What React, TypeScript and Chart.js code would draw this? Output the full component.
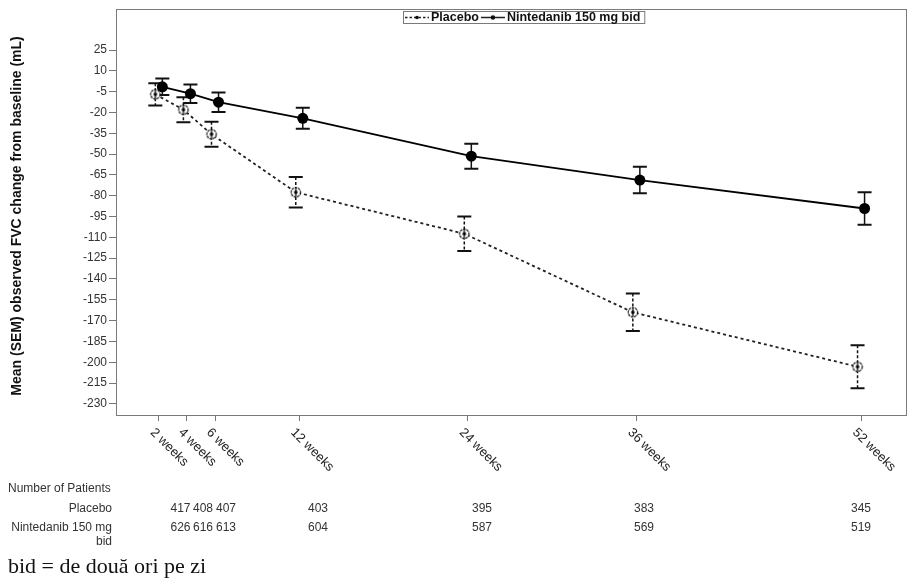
import React, { useEffect, useRef } from 'react';
import { Chart, registerables } from 'chart.js';

Chart.register(...registerables);

// ---- data ----
const WEEKS = [2, 4, 6, 12, 24, 36, 52];
const WEEK_LABELS = ['2 weeks', '4 weeks', '6 weeks', '12 weeks', '24 weeks', '36 weeks', '52 weeks'];
const PLACEBO_MEAN = [-6.9, -18.0, -35.7, -77.5, -107.4, -164.0, -203.2];
const PLACEBO_SEM = [8.0, 9.0, 9.0, 11.0, 12.5, 13.5, 15.5];
const NINTEDANIB_MEAN = [-1.5, -6.5, -12.6, -24.2, -51.5, -68.7, -89.2];
const NINTEDANIB_SEM = [6.0, 6.7, 7.0, 7.6, 9.0, 9.5, 11.7];
const Y_TICKS = [25, 10, -5, -20, -35, -50, -65, -80, -95, -110, -125, -140, -155, -170, -185, -200, -215, -230];
const PLACEBO_N = [417, 408, 407, 403, 395, 383, 345];
const NINTEDANIB_N = [626, 616, 613, 604, 587, 569, 519];
const SERIES_NAMES = ['Placebo', 'Nintedanib 150 mg bid'];
const Y_TITLE = 'Mean (SEM) observed FVC change from baseline (mL)';
const TABLE_TITLE = 'Number of Patients';
const FOOTNOTE = 'bid = de două ori pe zi';

// ---- layout / style ----
const W = 919;
const H = 588;
const DODGE = 0.25;
const TABLE_X = [180.5, 203, 226, 318, 482, 644, 861];
const SANS = 'Arial, "Liberation Sans", sans-serif';
const FRAME = '#7a7a7a';

function makePlaceboMarker(): HTMLCanvasElement {
  const c = document.createElement('canvas');
  c.width = 14;
  c.height = 14;
  const g = c.getContext('2d')!;
  g.fillStyle = '#fff';
  g.beginPath();
  g.arc(7, 7, 4.7, 0, Math.PI * 2);
  g.fill();
  g.strokeStyle = '#111';
  g.lineWidth = 1.2;
  g.setLineDash([2.6, 0.8]);
  g.beginPath();
  g.arc(7, 7, 4.7, 0, Math.PI * 2);
  g.stroke();
  g.setLineDash([]);
  g.lineWidth = 1.3;
  g.beginPath();
  g.moveTo(7, 3);
  g.lineTo(7, 11);
  g.stroke();
  g.fillStyle = '#000';
  g.beginPath();
  g.arc(7, 7, 1.8, 0, Math.PI * 2);
  g.fill();
  return c;
}

const errorBarPlugin = {
  id: 'errorBars',
  beforeDatasetsDraw(chart: any) {
    const ctx = chart.ctx;
    const xs = chart.scales.x;
    const ys = chart.scales.y;
    chart.data.datasets.forEach((ds: any) => {
      const errs: number[] = ds.errors;
      ds.data.forEach((p: any, i: number) => {
        const x = xs.getPixelForValue(p.x);
        const yt = ys.getPixelForValue(p.y + errs[i]);
        const yb = ys.getPixelForValue(p.y - errs[i]);
        ctx.save();
        ctx.strokeStyle = '#111';
        ctx.lineWidth = 1.5;
        ctx.setLineDash(ds.dashedBars ? [3, 2] : []);
        ctx.beginPath();
        ctx.moveTo(x, yt);
        ctx.lineTo(x, yb);
        ctx.stroke();
        ctx.setLineDash([]);
        ctx.lineWidth = 2;
        ctx.beginPath();
        ctx.moveTo(x - 7, yt);
        ctx.lineTo(x + 7, yt);
        ctx.moveTo(x - 7, yb);
        ctx.lineTo(x + 7, yb);
        ctx.stroke();
        ctx.restore();
      });
    });
  },
};

const decorPlugin = {
  id: 'decor',
  afterDraw(chart: any) {
    const ctx = chart.ctx;
    const a = chart.chartArea;
    const xs = chart.scales.x;
    ctx.save();

    // frame
    ctx.strokeStyle = FRAME;
    ctx.lineWidth = 1;
    ctx.strokeRect(Math.round(a.left) + 0.5, Math.round(a.top) + 0.5, Math.round(a.right - a.left), Math.round(a.bottom - a.top));

    // x tick labels (rotated clockwise)
    ctx.fillStyle = '#222';
    ctx.font = `13px ${SANS}`;
    ctx.textAlign = 'left';
    ctx.textBaseline = 'middle';
    WEEKS.forEach((w, i) => {
      const x = xs.getPixelForValue(w);
      ctx.save();
      ctx.translate(x - 6.5, a.bottom + 15.5);
      ctx.rotate(Math.PI / 4);
      ctx.fillText(WEEK_LABELS[i], 0, 0);
      ctx.restore();
    });

    // y title
    ctx.save();
    ctx.translate(17, 216);
    ctx.rotate(-Math.PI / 2);
    ctx.font = `bold 14px ${SANS}`;
    ctx.fillStyle = '#111';
    ctx.textAlign = 'center';
    ctx.textBaseline = 'middle';
    ctx.fillText(Y_TITLE, 0, 0);
    ctx.restore();

    // legend inside plot area
    const ly = 17.5;
    ctx.font = `bold 12.5px ${SANS}`;
    const t1 = ctx.measureText(SERIES_NAMES[0]).width;
    const t2 = ctx.measureText(SERIES_NAMES[1]).width;
    const seg = 24;
    const total = 2 + seg + 2 + t1 + 2 + seg + 2 + t2 + 4;
    const cx = (a.left + a.right) / 2;
    const lx = Math.round(cx - total / 2 + 13);
    ctx.fillStyle = '#fff';
    ctx.fillRect(lx + 0.5, 11.5, total, 12);
    ctx.strokeStyle = FRAME;
    ctx.strokeRect(lx + 0.5, 11.5, total, 12);
    let px = lx + 2;
    ctx.strokeStyle = '#222';
    ctx.lineWidth = 1.3;
    ctx.setLineDash([2.5, 2]);
    ctx.beginPath();
    ctx.moveTo(px, ly);
    ctx.lineTo(px + seg, ly);
    ctx.stroke();
    ctx.setLineDash([]);
    ctx.fillStyle = '#111';
    ctx.beginPath();
    ctx.arc(px + seg / 2, ly, 1.8, 0, Math.PI * 2);
    ctx.fill();
    px += seg + 2;
    ctx.textAlign = 'left';
    ctx.textBaseline = 'middle';
    ctx.fillText(SERIES_NAMES[0], px, ly + 0.5);
    px += t1 + 2;
    ctx.lineWidth = 1.5;
    ctx.beginPath();
    ctx.moveTo(px, ly);
    ctx.lineTo(px + seg, ly);
    ctx.stroke();
    ctx.beginPath();
    ctx.arc(px + seg / 2, ly, 2.2, 0, Math.PI * 2);
    ctx.fill();
    px += seg + 2;
    ctx.fillText(SERIES_NAMES[1], px, ly + 0.5);

    // patients table
    ctx.font = `12px ${SANS}`;
    ctx.fillStyle = '#333';
    ctx.textBaseline = 'middle';
    ctx.textAlign = 'left';
    ctx.fillText(TABLE_TITLE, 8, 489);
    ctx.textAlign = 'right';
    ctx.fillText(SERIES_NAMES[0], 112, 508.5);
    ctx.fillText('Nintedanib 150 mg', 112, 527.5);
    ctx.fillText('bid', 112, 541.5);
    ctx.textAlign = 'center';
    TABLE_X.forEach((tx, i) => {
      ctx.fillText(String(PLACEBO_N[i]), tx, 508.5);
      ctx.fillText(String(NINTEDANIB_N[i]), tx, 527.5);
    });

    // footnote
    ctx.font = `22px "Liberation Serif", "Times New Roman", serif`;
    ctx.fillStyle = '#111';
    ctx.textAlign = 'left';
    ctx.textBaseline = 'alphabetic';
    ctx.fillText(FOOTNOTE, 8, 573);

    ctx.restore();
  },
};

export default function App() {
  const ref = useRef<HTMLCanvasElement>(null);

  useEffect(() => {
    document.body.style.margin = '0';
    const canvas = ref.current!;
    const marker = makePlaceboMarker();
    const chart = new Chart(canvas, {
      type: 'line',
      data: {
        datasets: [
          {
            label: SERIES_NAMES[0],
            data: WEEKS.map((w, i) => ({ x: w - DODGE, y: PLACEBO_MEAN[i] })),
            errors: PLACEBO_SEM,
            dashedBars: true,
            borderColor: '#222',
            borderWidth: 1.8,
            borderDash: [3, 3],
            pointStyle: marker as any,
            pointRadius: 5,
            order: 1,
          } as any,
          {
            label: SERIES_NAMES[1],
            data: WEEKS.map((w, i) => ({ x: w + DODGE, y: NINTEDANIB_MEAN[i] })),
            errors: NINTEDANIB_SEM,
            dashedBars: false,
            borderColor: '#000',
            borderWidth: 1.8,
            pointStyle: 'circle',
            pointRadius: 5.5,
            pointBackgroundColor: '#000',
            pointBorderColor: '#000',
            pointBorderWidth: 0,
            order: 0,
          } as any,
        ],
      },
      options: {
        animation: false,
        responsive: false,
        devicePixelRatio: 1,
        layout: { padding: { top: 7, right: 13, left: 0, bottom: 0 } },
        plugins: { legend: { display: false }, tooltip: { enabled: false } },
        events: [],
        scales: {
          x: {
            type: 'linear',
            min: -1.05,
            max: 55.2,
            afterBuildTicks: (s: any) => {
              s.ticks = WEEKS.map((v) => ({ value: v }));
            },
            afterFit: (s: any) => {
              s.height = H - 415;
            },
            ticks: { display: false, autoSkip: false },
            grid: { drawOnChartArea: false, drawTicks: true, tickLength: 6, color: '#777' },
            border: { display: false },
          },
          y: {
            type: 'linear',
            min: -238,
            max: 54.4,
            afterBuildTicks: (s: any) => {
              s.ticks = Y_TICKS.map((v) => ({ value: v }));
            },
            afterFit: (s: any) => {
              s.width = 116;
            },
            ticks: {
              autoSkip: false,
              padding: 2,
              color: '#333',
              font: { family: SANS, size: 12 },
              callback: (v: any) => String(v),
            },
            grid: { drawOnChartArea: false, drawTicks: true, tickLength: 7, color: '#777' },
            border: { display: false },
          },
        },
      } as any,
      plugins: [errorBarPlugin, decorPlugin],
    });
    return () => chart.destroy();
  }, []);

  return <canvas ref={ref} width={W} height={H} style={{ display: 'block', width: W, height: H }} />;
}
